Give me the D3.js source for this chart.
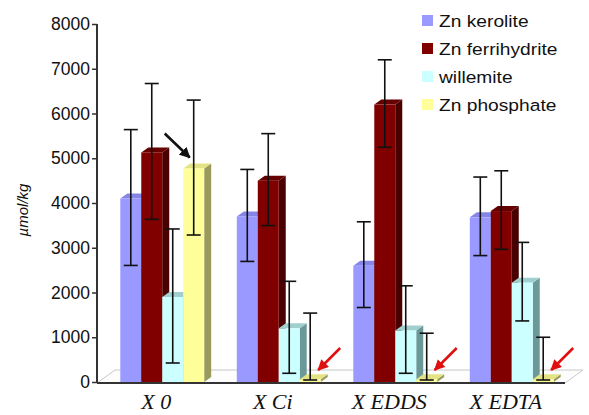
<!DOCTYPE html>
<html>
<head>
<meta charset="utf-8">
<script src="https://cdn.jsdelivr.net/npm/d3@7"></script>
<style>
  body { margin: 0; background: #fff; }
  svg { display: block; }
</style>
</head>
<body>
<svg id="chart" width="589" height="415"></svg>
<script>
const categories = ["X 0", "X Ci", "X EDDS", "X EDTA"];
const seriesNames = ["Zn kerolite", "Zn ferrihydrite", "willemite", "Zn phosphate"];
const kerolite = [4100, 3700, 2600, 3680];
const ferrihydrite = [5130, 4500, 6200, 3820];
const willemite = [1900, 1200, 1150, 2220];
const phosphate = [4770, 60, 60, 60];
const keroliteErr = [1540, 1050, 980, 900];
const ferrihydriteErr = [1540, 1050, 1000, 900];
const willemiteErr = [1520, 1050, 1000, 900];
const phosphateErr = [1530, 1480, 1030, 940];
const yTicks = [0, 1000, 2000, 3000, 4000, 5000, 6000, 7000, 8000];

const values = [kerolite, ferrihydrite, willemite, phosphate];
const errors = [keroliteErr, ferrihydriteErr, willemiteErr, phosphateErr];

// front / top / side colours for the 3D columns
const faceColors = [
  { front: "#9999ff", top: "#8585e8", side: "#5c5c99" },
  { front: "#800000", top: "#660000", side: "#4a0000" },
  { front: "#ccffff", top: "#9fcfcf", side: "#6b9999" },
  { front: "#ffff99", top: "#e3e383", side: "#9a9a5c" }
];

const svg = d3.select("#chart");
const dx = 7, dy = -5; // column depth

const y = d3.scaleLinear().domain([0, 8000]).range([382, 24]);
const x0 = d3.scaleBand().domain(categories).range([97, 577])
  .paddingInner(0.28).paddingOuter(0.2);
const x1 = d3.scaleBand().domain(seriesNames).range([0, x0.bandwidth()]);

// floor
const floorY = y(0) + 1;
svg.append("polygon")
  .attr("points", [[97, floorY], [115, floorY - 13], [583, floorY - 13], [565, floorY]].join(" "))
  .attr("fill", "#fdfdfd")
  .attr("stroke", "#c8c8c8")
  .attr("stroke-width", 1);

// columns
const bars = [];
categories.forEach((c, ci) => {
  seriesNames.forEach((s, si) => {
    bars.push({ c, s, ci, si, v: values[si][ci], e: errors[si][ci] });
  });
});

const colG = svg.append("g");
bars.forEach(d => {
  const xl = x0(d.c) + x1(d.s), xr = xl + x1.bandwidth();
  const yt = y(d.v), yb = y(0);
  const col = faceColors[d.si];
  const g = colG.append("g");
  g.append("polygon")
    .attr("points", [[xr, yt], [xr + dx, yt + dy], [xr + dx, yb + dy], [xr, yb]].join(" "))
    .attr("fill", col.side);
  g.append("polygon")
    .attr("points", [[xl, yt], [xl + dx, yt + dy], [xr + dx, yt + dy], [xr, yt]].join(" "))
    .attr("fill", col.top);
  g.append("rect")
    .attr("x", xl).attr("y", yt)
    .attr("width", xr - xl).attr("height", yb - yt)
    .attr("fill", col.front);
});

// error bars
const errG = svg.append("g").attr("stroke", "#111").attr("stroke-width", 1.6);
bars.forEach(d => {
  const cx = x0(d.c) + x1(d.s) + x1.bandwidth() / 2;
  const top = y(d.v + d.e), bot = y(Math.max(0, d.v - d.e)) - 2;
  errG.append("line").attr("x1", cx).attr("x2", cx).attr("y1", top).attr("y2", bot);
  errG.append("line").attr("x1", cx - 7).attr("x2", cx + 7).attr("y1", top).attr("y2", top);
  errG.append("line").attr("x1", cx - 7).attr("x2", cx + 7).attr("y1", bot).attr("y2", bot);
});

// front edge of floor
svg.append("line")
  .attr("x1", 97).attr("x2", 565)
  .attr("y1", floorY).attr("y2", floorY)
  .attr("stroke", "#333").attr("stroke-width", 2);

// y axis
const yAxis = svg.append("g")
  .attr("transform", "translate(97,0)")
  .call(d3.axisLeft(y).tickValues(yTicks).tickSize(5).tickPadding(2).tickFormat(d3.format("d")));
yAxis.select(".domain").remove();
yAxis.append("line")
  .attr("x1", 0).attr("x2", 0).attr("y1", y(8000)).attr("y2", floorY)
  .attr("stroke", "#333").attr("stroke-width", 2);
yAxis.selectAll(".tick line").attr("stroke", "#333").attr("stroke-width", 1.5);
yAxis.selectAll(".tick text")
  .attr("fill", "#111")
  .style("font-family", "Liberation Sans, Arial, sans-serif")
  .style("font-size", "17.5px");

svg.append("text")
  .attr("transform", "translate(28,210) rotate(-90)")
  .attr("text-anchor", "middle")
  .style("font-family", "Liberation Sans, Arial, sans-serif")
  .style("font-style", "italic")
  .style("font-size", "15px")
  .attr("fill", "#111")
  .text("µmol/kg");

// category labels
svg.append("g").selectAll("text")
  .data(categories)
  .join("text")
  .attr("x", d => x0(d) + x0.bandwidth() / 2 - 6)
  .attr("y", 409)
  .attr("text-anchor", "middle")
  .style("font-family", "Liberation Serif, Times New Roman, serif")
  .style("font-style", "italic")
  .style("font-size", "22px")
  .attr("fill", "#111")
  .text(d => d);

// legend
const legend = svg.append("g").attr("transform", "translate(422,15)");
seriesNames.forEach((s, i) => {
  const row = legend.append("g").attr("transform", `translate(0,${i * 28})`);
  row.append("rect").attr("width", 11).attr("height", 11).attr("fill", faceColors[i].front);
  row.append("text")
    .attr("transform", "translate(17,12) scale(1.13,1)")
    .style("font-family", "Liberation Sans, Arial, sans-serif")
    .style("font-size", "17px")
    .attr("fill", "#111")
    .text(s);
});

// arrows
const defs = svg.append("defs");
[["blackHead", "#111"], ["redHead", "#e01010"]].forEach(([id, c]) => {
  defs.append("marker")
    .attr("id", id)
    .attr("viewBox", "0 0 10 10")
    .attr("refX", 9).attr("refY", 5)
    .attr("markerWidth", 4.2).attr("markerHeight", 4.2)
    .attr("orient", "auto")
    .append("path").attr("d", "M0,0 L10,5 L0,10 Z").attr("fill", c);
});
const arrowG = svg.append("g");
categories.forEach((c, ci) => {
  const cx = x0(c) + x1("Zn phosphate") + x1.bandwidth() / 2;
  if (ci === 0) {
    const top = y(phosphate[ci]);
    arrowG.append("line")
      .attr("x1", cx - 29).attr("y1", top - 35)
      .attr("x2", cx - 4).attr("y2", top - 11)
      .attr("stroke", "#111").attr("stroke-width", 2.6)
      .attr("marker-end", "url(#blackHead)");
  } else {
    const base = y(0);
    arrowG.append("line")
      .attr("x1", cx + 30).attr("y1", base - 34)
      .attr("x2", cx + 8).attr("y2", base - 12)
      .attr("stroke", "#e01010").attr("stroke-width", 2.6)
      .attr("marker-end", "url(#redHead)");
  }
});
</script>
</body>
</html>
